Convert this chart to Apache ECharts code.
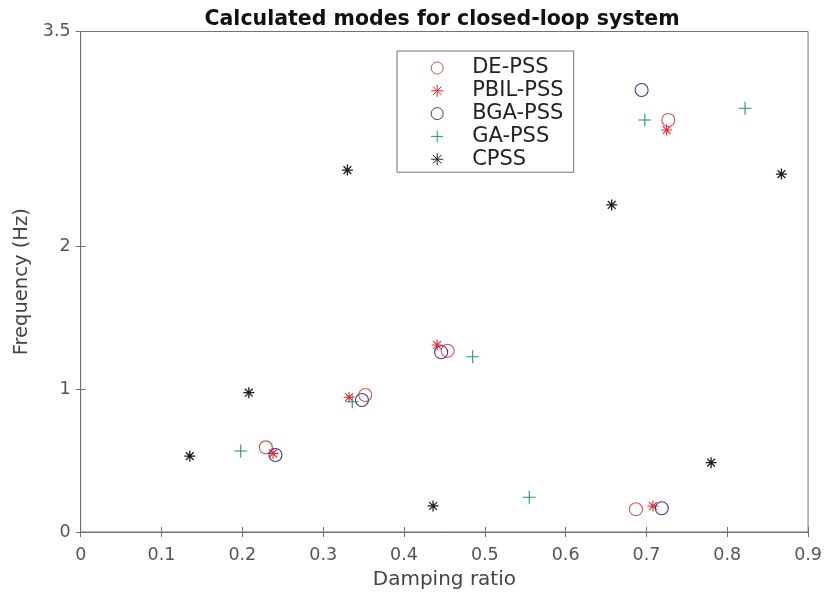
<!DOCTYPE html>
<html><head><meta charset="utf-8">
<script src="https://cdn.jsdelivr.net/npm/echarts@6/dist/echarts.min.js"></script>
<style>html,body{margin:0;padding:0;background:#fff}#c{width:825px;height:598px}</style>
</head><body><div id="c"></div>
<script>
const seriesNames = ['DE-PSS','PBIL-PSS','BGA-PSS','GA-PSS','CPSS'];
const dePss   = [[0.229,0.592],[0.352,0.958],[0.454,1.268],[0.727,2.881],[0.687,0.159]];
const pbilPss = [[0.238,0.550],[0.332,0.942],[0.441,1.308],[0.725,2.811],[0.708,0.182]];
const bgaPss  = [[0.241,0.538],[0.348,0.923],[0.446,1.257],[0.694,3.091],[0.719,0.166]];
const gaPss   = [[0.198,0.566],[0.336,0.911],[0.485,1.226],[0.698,2.881],[0.822,2.963],[0.555,0.243]];
const cpss    = [[0.135,0.531],[0.208,0.974],[0.330,2.531],[0.436,0.182],[0.657,2.287],[0.867,2.503],[0.780,0.485]];
const xTicks = [0,0.1,0.2,0.3,0.4,0.5,0.6,0.7,0.8,0.9];
const yTicks = [0,1,2,3.5];

const FONT = '"DejaVu Sans", "Liberation Sans", Arial, sans-serif';
const starPath = 'path://M0,-10L0,10M-10,0L10,0M-7.07,-7.07L7.07,7.07M-7.07,7.07L7.07,-7.07';
const plusPath = 'path://M0,-10L0,10M-10,0L10,0';

function mk(name, data, symbol, size, color, bw){
  return {
    name, type:'scatter', data, symbol, symbolSize:size, symbolKeepAspect:true,
    itemStyle:{color:'transparent', borderColor:color, borderWidth:bw, opacity:1},
    emphasis:{disabled:true}, z:3
  };
}

const chart = echarts.init(document.getElementById('c'), null, {renderer:'canvas'});
const AX = '#727272';
function tick(vals){ return {show:true, inside:true, length:5, customValues:vals, lineStyle:{color:AX, width:1}}; }
chart.setOption({
  animation:false,
  backgroundColor:'#fff',
  title:{text:'Calculated modes for closed-loop system', left:437, textAlign:'center', top:4,
    textStyle:{fontFamily:FONT, fontSize:20.5, fontWeight:'bold', color:'#111'}},
  grid:{left:80.7, right:15.3, top:31.5, bottom:66, show:true, borderColor:AX, borderWidth:1, backgroundColor:'#fff'},
  legend:{
    orient:'vertical', left:397, top:51, data:seriesNames,
    itemWidth:60, itemHeight:12, itemGap:1.8,
    padding:[6.5,10,2.5,33.7],
    borderColor:AX, borderWidth:1, backgroundColor:'#fff',
    itemStyle:{borderWidth:1},
    textStyle:{fontFamily:FONT, fontSize:21, lineHeight:20, color:'#222'},
    selectedMode:false
  },
  xAxis:[
    {type:'value', min:0, max:0.9, interval:0.1, position:'bottom',
      name:'Damping ratio', nameLocation:'middle', nameGap:38,
      nameTextStyle:{fontFamily:FONT, fontSize:20, color:'#444'},
      axisLine:{show:true, lineStyle:{color:AX}}, splitLine:{show:false},
      axisTick:tick(xTicks),
      axisLabel:{fontFamily:FONT, fontSize:17.5, color:'#555', margin:14,
        customValues:xTicks, formatter:v=>String(+v.toFixed(1))}},
    {type:'value', min:0, max:0.9, interval:0.1, position:'top',
      axisLine:{show:true, lineStyle:{color:AX}}, splitLine:{show:false},
      axisTick:tick(xTicks), axisLabel:{show:false}}
  ],
  yAxis:[
    {type:'value', min:0, max:3.5, position:'left',
      name:'Frequency (Hz)', nameLocation:'middle', nameGap:49,
      nameTextStyle:{fontFamily:FONT, fontSize:19.5, color:'#444'},
      axisLine:{show:true, lineStyle:{color:AX}}, splitLine:{show:false},
      axisTick:tick(yTicks),
      axisLabel:{fontFamily:FONT, fontSize:17.5, color:'#555', margin:10, customValues:yTicks}},
    {type:'value', min:0, max:3.5, position:'right',
      axisLine:{show:true, lineStyle:{color:AX}}, splitLine:{show:false},
      axisTick:tick(yTicks), axisLabel:{show:false}}
  ],
  series:[
    mk('DE-PSS', dePss, 'circle', 13, '#e5533c', 1.1),
    mk('PBIL-PSS', pbilPss, starPath, 11, '#f0262a', 1.1),
    mk('BGA-PSS', bgaPss, 'circle', 13, '#3c3a9c', 1.1),
    mk('GA-PSS', gaPss, plusPath, 13, '#1d9e55', 1.1),
    mk('CPSS', cpss, starPath, 11, '#1e1e1e', 1.3)
  ]
});
</script></body></html>
